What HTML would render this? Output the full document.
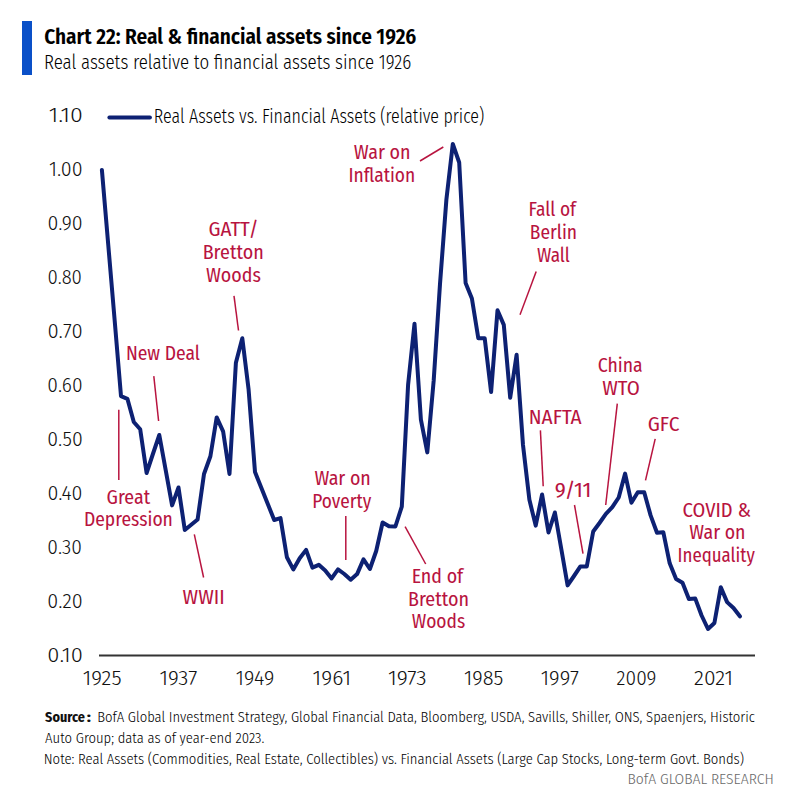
<!DOCTYPE html>
<html><head><meta charset="utf-8"><title>Chart 22: Real &amp; financial assets since 1926</title>
<style>
html,body{margin:0;padding:0;background:#fff;}
body{width:792px;height:804px;overflow:hidden;position:relative;font-family:'Fira Sans Condensed','Liberation Sans Narrow','Liberation Sans',sans-serif;}
svg{position:absolute;left:0;top:0;}

text{font-family:'Fira Sans Condensed','Liberation Sans Narrow','Liberation Sans',sans-serif;}
.ti{font-size:21px;font-weight:600;fill:#000;}
.st{font-size:19.5px;font-weight:300;fill:#000;}
.ax{font-size:20px;font-weight:300;fill:#111;}
.lg{font-size:19.5px;font-weight:300;fill:#000;}
.an{font-size:19.5px;font-weight:400;fill:#b8143f;}
.ft{font-size:14.6px;font-weight:300;fill:#000;}
.fb{font-size:14.6px;fill:#111;font-weight:700;}
.br{font-size:14.6px;font-weight:300;fill:#6a6a6a;}

</style></head><body>
<svg width="792" height="804" viewBox="0 0 792 804">
<rect x="22" y="21" width="10" height="54" fill="#0a50c8"/>
<line x1="109.3" y1="117.5" x2="150" y2="117.5" stroke="#0d2173" stroke-width="3.8" stroke-linecap="round"/>
<line x1="99" y1="655.5" x2="755" y2="655.5" stroke="#333" stroke-width="2.2"/>
<g stroke="#b8143f" stroke-width="1.5" fill="none"><line x1="153.8" y1="376.2" x2="158.6" y2="421"/><line x1="118.8" y1="409.8" x2="118.8" y2="480.1"/><line x1="194.3" y1="534.3" x2="203.6" y2="577.5"/><line x1="234" y1="295.8" x2="238.5" y2="330.5"/><line x1="345.8" y1="516" x2="345.8" y2="560"/><line x1="420" y1="161" x2="443.3" y2="147"/><line x1="405.1" y1="526.7" x2="425.7" y2="564"/><line x1="536.2" y1="271.5" x2="520" y2="314.8"/><line x1="540.4" y1="430.4" x2="543.2" y2="486.2"/><line x1="574.5" y1="505" x2="583" y2="553.7"/><line x1="617.3" y1="403.6" x2="605.7" y2="505"/><line x1="655.2" y1="438.9" x2="645.5" y2="480.3"/></g>
<polyline points="101.9,170.0 108.3,245.4 114.7,320.8 121.0,396.2 127.4,398.8 133.8,422.0 140.2,429.3 146.6,473.0 152.9,454.0 159.3,435.0 165.7,470.2 172.1,505.4 178.5,487.5 184.8,530.0 191.2,524.8 197.6,519.5 204.0,474.0 210.4,456.2 216.7,417.4 223.1,431.3 229.5,474.0 235.9,362.7 242.3,338.3 248.6,389.6 255.0,472.0 261.4,488.0 267.8,504.0 274.2,520.0 280.5,518.1 286.9,557.3 293.3,569.4 299.7,558.2 306.1,549.9 312.4,567.6 318.8,564.8 325.2,570.4 331.6,578.4 338.0,569.4 344.3,574.0 350.7,579.7 357.1,574.1 363.5,559.3 369.9,569.0 376.2,551.0 382.6,522.5 389.0,526.3 395.4,526.5 401.8,506.6 408.1,384.7 414.5,323.7 420.9,419.6 427.3,452.4 433.7,380.4 440.0,284.0 446.4,199.5 452.8,143.9 459.2,162.5 465.6,283.0 471.9,298.5 478.3,338.3 484.7,338.3 491.1,392.1 497.5,310.3 503.8,324.9 510.2,397.7 516.6,354.7 523.0,445.0 529.4,499.8 535.7,525.6 542.1,494.5 548.5,532.5 554.9,512.5 561.3,549.0 567.6,585.4 574.0,576.0 580.4,566.4 586.8,566.4 593.2,531.5 599.5,523.0 605.9,513.9 612.3,507.2 618.7,497.5 625.1,473.6 631.4,502.7 637.8,492.2 644.2,492.2 650.6,515.4 657.0,532.8 663.3,532.2 669.7,563.3 676.1,579.0 682.5,582.7 688.9,599.1 695.2,598.4 701.6,615.5 708.0,629.0 714.4,623.0 720.8,587.2 727.1,602.1 733.5,608.0 739.9,616.3" fill="none" stroke="#0d2173" stroke-width="4" stroke-linejoin="round" stroke-linecap="round"/>
<text x="44.2" y="43.9" textLength="372.1" lengthAdjust="spacingAndGlyphs" class="ti">Chart 22: Real &amp; financial assets since 1926</text>
<text x="44.0" y="69.0" textLength="367.2" lengthAdjust="spacingAndGlyphs" class="st">Real assets relative to financial assets since 1926</text>
<text x="153.8" y="122.9" textLength="330.4" lengthAdjust="spacingAndGlyphs" class="lg">Real Assets vs. Financial Assets (relative price)</text>
<text x="48.7" y="121.5" textLength="34.2" lengthAdjust="spacingAndGlyphs" class="ax">1.10</text>
<text x="48.9" y="175.6" textLength="33.7" lengthAdjust="spacingAndGlyphs" class="ax">1.00</text>
<text x="47.4" y="229.6" textLength="35.3" lengthAdjust="spacingAndGlyphs" class="ax">0.90</text>
<text x="47.4" y="283.7" textLength="34.5" lengthAdjust="spacingAndGlyphs" class="ax">0.80</text>
<text x="47.4" y="337.7" textLength="35.2" lengthAdjust="spacingAndGlyphs" class="ax">0.70</text>
<text x="47.3" y="391.8" textLength="35.2" lengthAdjust="spacingAndGlyphs" class="ax">0.60</text>
<text x="47.3" y="445.9" textLength="35.4" lengthAdjust="spacingAndGlyphs" class="ax">0.50</text>
<text x="47.4" y="499.9" textLength="35.1" lengthAdjust="spacingAndGlyphs" class="ax">0.40</text>
<text x="47.3" y="554.0" textLength="34.7" lengthAdjust="spacingAndGlyphs" class="ax">0.30</text>
<text x="47.3" y="608.0" textLength="35.3" lengthAdjust="spacingAndGlyphs" class="ax">0.20</text>
<text x="47.3" y="662.1" textLength="35.5" lengthAdjust="spacingAndGlyphs" class="ax">0.10</text>
<text x="82.8" y="685.3" textLength="38.7" lengthAdjust="spacingAndGlyphs" class="ax">1925</text>
<text x="159.4" y="685.3" textLength="38.0" lengthAdjust="spacingAndGlyphs" class="ax">1937</text>
<text x="235.7" y="685.3" textLength="38.6" lengthAdjust="spacingAndGlyphs" class="ax">1949</text>
<text x="312.6" y="685.3" textLength="38.5" lengthAdjust="spacingAndGlyphs" class="ax">1961</text>
<text x="387.9" y="685.3" textLength="38.8" lengthAdjust="spacingAndGlyphs" class="ax">1973</text>
<text x="464.0" y="685.3" textLength="39.3" lengthAdjust="spacingAndGlyphs" class="ax">1985</text>
<text x="540.7" y="685.3" textLength="38.1" lengthAdjust="spacingAndGlyphs" class="ax">1997</text>
<text x="616.6" y="685.3" textLength="39.8" lengthAdjust="spacingAndGlyphs" class="ax">2009</text>
<text x="694.1" y="685.3" textLength="39.0" lengthAdjust="spacingAndGlyphs" class="ax">2021</text>
<text x="125.9" y="359.6" textLength="74.1" lengthAdjust="spacingAndGlyphs" class="an">New Deal</text>
<text x="106.6" y="503.9" textLength="43.6" lengthAdjust="spacingAndGlyphs" class="an">Great</text>
<text x="83.9" y="525.8" textLength="89.0" lengthAdjust="spacingAndGlyphs" class="an">Depression</text>
<text x="182.6" y="604.3" textLength="42.1" lengthAdjust="spacingAndGlyphs" class="an">WWII</text>
<text x="208.5" y="235.9" textLength="50.0" lengthAdjust="spacingAndGlyphs" class="an">GATT/</text>
<text x="202.7" y="258.7" textLength="61.0" lengthAdjust="spacingAndGlyphs" class="an">Bretton</text>
<text x="206.1" y="281.5" textLength="54.8" lengthAdjust="spacingAndGlyphs" class="an">Woods</text>
<text x="314.4" y="485" textLength="56.4" lengthAdjust="spacingAndGlyphs" class="an">War on</text>
<text x="312.3" y="507.5" textLength="59.0" lengthAdjust="spacingAndGlyphs" class="an">Poverty</text>
<text x="353.8" y="158.8" textLength="56.8" lengthAdjust="spacingAndGlyphs" class="an">War on</text>
<text x="348.4" y="181.5" textLength="66.9" lengthAdjust="spacingAndGlyphs" class="an">Inflation</text>
<text x="411.7" y="582.8" textLength="51.5" lengthAdjust="spacingAndGlyphs" class="an">End of</text>
<text x="408.0" y="605.6" textLength="61.0" lengthAdjust="spacingAndGlyphs" class="an">Bretton</text>
<text x="411.8" y="628.3" textLength="53.4" lengthAdjust="spacingAndGlyphs" class="an">Woods</text>
<text x="528.6" y="215.9" textLength="47.4" lengthAdjust="spacingAndGlyphs" class="an">Fall of</text>
<text x="529.8" y="238.6" textLength="47.2" lengthAdjust="spacingAndGlyphs" class="an">Berlin</text>
<text x="536.9" y="261.6" textLength="33.0" lengthAdjust="spacingAndGlyphs" class="an">Wall</text>
<text x="528.8" y="424.3" textLength="52.9" lengthAdjust="spacingAndGlyphs" class="an">NAFTA</text>
<text x="554.7" y="496.5" textLength="36.8" lengthAdjust="spacingAndGlyphs" class="an">9/11</text>
<text x="597.7" y="372.3" textLength="44.8" lengthAdjust="spacingAndGlyphs" class="an">China</text>
<text x="602.2" y="394.7" textLength="37.6" lengthAdjust="spacingAndGlyphs" class="an">WTO</text>
<text x="647.8" y="431.4" textLength="31.6" lengthAdjust="spacingAndGlyphs" class="an">GFC</text>
<text x="682.6" y="516.5" textLength="68.4" lengthAdjust="spacingAndGlyphs" class="an">COVID &amp;</text>
<text x="689.3" y="539" textLength="56.2" lengthAdjust="spacingAndGlyphs" class="an">War on</text>
<text x="677.6" y="561.8" textLength="77.2" lengthAdjust="spacingAndGlyphs" class="an">Inequality</text>
<text x="45.1" y="722.2" textLength="39.9" lengthAdjust="spacingAndGlyphs" class="fb">Source</text>
<text x="86.8" y="722.2" textLength="4.2" lengthAdjust="spacingAndGlyphs" class="fb">:</text>
<text x="97.2" y="722.2" textLength="657.7" lengthAdjust="spacingAndGlyphs" class="ft">BofA Global Investment Strategy, Global Financial Data, Bloomberg, USDA, Savills, Shiller, ONS, Spaenjers, Historic</text>
<text x="45.1" y="742.9" textLength="219.2" lengthAdjust="spacingAndGlyphs" class="ft">Auto Group; data as of year-end 2023.</text>
<text x="43.8" y="763.6" textLength="700.2" lengthAdjust="spacingAndGlyphs" class="ft">Note: Real Assets (Commodities, Real Estate, Collectibles) vs. Financial Assets (Large Cap Stocks, Long-term Govt. Bonds)</text>
<text x="627.4" y="784.3" textLength="146.4" lengthAdjust="spacingAndGlyphs" class="br">BofA GLOBAL RESEARCH</text>
</svg>
</body></html>
